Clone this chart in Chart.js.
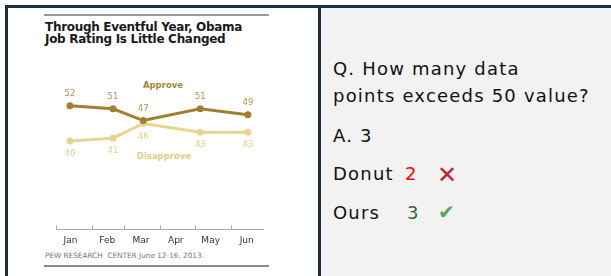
<!DOCTYPE html>
<html><head><meta charset="utf-8">
<script src="https://cdn.jsdelivr.net/npm/chart.js@4"></script>
<style>
html,body{margin:0;padding:0;width:611px;height:276px;overflow:hidden;background:#fff;}
.abs{position:absolute;white-space:nowrap;}
#right{position:absolute;left:321px;top:8px;width:290px;height:268px;background:#f2f2f2;}
.bar{position:absolute;background:#1b2f3e;}
.rule{position:absolute;left:44px;width:225px;height:2px;background:#999;}
#title{left:45px;top:20.6px;font:bold 12px "DejaVu Sans";letter-spacing:-0.3px;line-height:12.3px;color:#1a1a1a;}
#foot{left:45px;top:251px;font:7.3px "DejaVu Sans";line-height:10px;color:#777;}
.sname{position:absolute;width:100px;text-align:center;font:bold 8.5px "DejaVu Sans";line-height:10px;}
.q{position:absolute;left:333px;font:18px "DejaVu Sans";letter-spacing:1.2px;line-height:24px;color:#111;white-space:nowrap;}
canvas{position:absolute;left:0;top:0;}
</style></head>
<body>
<div id="right"></div>
<div class="bar" style="left:5px;top:5px;width:606px;height:3px"></div>
<div class="bar" style="left:5px;top:5px;width:3px;height:271px"></div>
<div class="bar" style="left:318px;top:5px;width:3px;height:271px"></div>
<div class="rule" style="top:14px"></div>
<div class="rule" style="top:265px;background:#8a8a8a"></div>
<div id="title" class="abs">Through Eventful Year, Obama<br>Job Rating Is Little Changed</div>
<div id="foot" class="abs">PEW RESEARCH&nbsp; CENTER June 12-16, 2013.</div>
<div class="sname" style="left:113px;top:79.7px;color:#a3873a">Approve</div>
<div class="sname" style="left:114px;top:150.9px;color:#e2cc86">Disapprove</div>
<canvas id="c" width="320" height="276"></canvas>
<div class="q" style="top:57px">Q. How many data</div>
<div class="q" style="top:84px">points exceeds 50 value?</div>
<div class="q" style="top:124px">A. 3</div>
<div class="q" style="top:162px">Donut</div>
<div class="q" style="top:162px;left:405px;color:#ff0000">2</div>
<div class="q" style="top:162.7px;left:437px;color:#c0272d;font-size:24px;letter-spacing:0">✕</div>
<div class="q" style="top:200.5px">Ours</div>
<div class="q" style="top:200.5px;left:407px;color:#2e6b2e">3</div>
<div class="q" style="top:200px;left:438px;color:#5aa84f;font-size:20px;letter-spacing:0">✔</div>
<script>
const months = ['Jan','Feb','Mar','Apr','May','Jun'];
const monthStartDays = [0,31,59,90,120,151];
const monthLabelDays = [12.5,44,73,103,133,164];
const surveyDays = [12,49,75,124,165];
const approve = [52,51,47,51,49];
const disapprove = [40,41,46,43,43];

const labelStyle = [
  {color:'#b0934a', offset:-12},
  {color:'#e4cd87', offset:13}
];

const valueLabels = {
  id:'valueLabels',
  afterDatasetsDraw(chart){
    const ctx = chart.ctx;
    chart.data.datasets.forEach((ds,i)=>{
      const meta = chart.getDatasetMeta(i);
      ctx.save();
      ctx.font = '8.5px "DejaVu Sans"';
      ctx.fillStyle = labelStyle[i].color;
      ctx.textAlign = 'center';
      ctx.textBaseline = 'middle';
      meta.data.forEach((pt,j)=>{
        ctx.fillText(String(ds.data[j].y), pt.x, pt.y + labelStyle[i].offset);
      });
      ctx.restore();
    });
  }
};

new Chart(document.getElementById('c'), {
  type:'line',
  data:{
    datasets:[
      {label:'Approve', data:surveyDays.map((d,i)=>({x:d,y:approve[i]})),
       borderColor:'#a08030', backgroundColor:'#a08030', pointBackgroundColor:'#a08030',
       borderWidth:3, pointRadius:3.5, pointBorderWidth:0, tension:0},
      {label:'Disapprove', data:surveyDays.map((d,i)=>({x:d,y:disapprove[i]})),
       borderColor:'#e9d48f', backgroundColor:'#e9d48f', pointBackgroundColor:'#e9d48f',
       borderWidth:3, pointRadius:3.5, pointBorderWidth:0, tension:0}
    ]
  },
  options:{
    responsive:false, animation:false, devicePixelRatio:1,
    layout:{padding:{left:56,right:57,top:53,bottom:20}},
    plugins:{legend:{display:false}, tooltip:{enabled:false}, title:{display:false}},
    scales:{
      x:{type:'linear', min:0, max:178, position:'bottom',
         afterBuildTicks:(s)=>{ s.ticks = [...monthStartDays, ...monthLabelDays].sort((a,b)=>a-b).map(v=>({value:v})); },
         grid:{drawOnChartArea:false, drawTicks:true, tickLength:-4, tickWidth:1,
               tickColor:(ctx)=> (ctx.tick && monthStartDays.includes(ctx.tick.value)) ? '#aaaaaa' : 'rgba(0,0,0,0)'},
         border:{display:true, color:'#aaaaaa', width:1},
         ticks:{autoSkip:false, maxRotation:0, minRotation:0, padding:10, color:'#333',
                font:{family:'DejaVu Sans', size:9},
                callback:(v)=>{ const i = monthLabelDays.indexOf(v); return i>=0 ? months[i] : ''; }}
      },
      y:{display:false, min:10, max:70}
    }
  },
  plugins:[valueLabels]
});
</script>
</body></html>
